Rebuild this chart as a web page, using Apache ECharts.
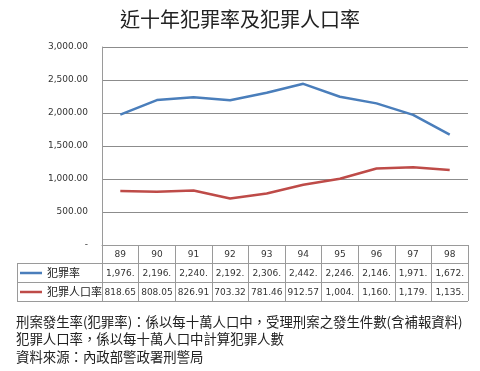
<!DOCTYPE html>
<html>
<head>
<meta charset="utf-8">
<script src="https://cdn.jsdelivr.net/npm/echarts@6/dist/echarts.min.js"></script>
<style>
html,body{margin:0;padding:0;background:#fff;}
#chart{width:480px;height:371px;}
</style>
</head>
<body>
<div id="chart"></div>
<script>
const categories = ['89','90','91','92','93','94','95','96','97','98'];
const crimeRate = [1976, 2196, 2240, 2192, 2306, 2442, 2246, 2146, 1971, 1672];
const offenderRate = [818.65, 808.05, 826.91, 703.32, 781.46, 912.57, 1004, 1160, 1179, 1135];
const seriesNames = ['犯罪率', '犯罪人口率'];
const yTicks = [0, 500, 1000, 1500, 2000, 2500, 3000];
const titleText = '近十年犯罪率及犯罪人口率';
const notes = [
  '刑案發生率(犯罪率)：係以每十萬人口中，受理刑案之發生件數(含補報資料)',
  '犯罪人口率，係以每十萬人口中計算犯罪人數',
  '資料來源：內政部警政署刑警局'
];

const CJK = '"Noto Sans CJK TC", "Noto Sans CJK SC", sans-serif';
const NUM = '"DejaVu Sans", Verdana, sans-serif';
const LINE = '#9a9a9a';

function fmtCell(v) {
  if (v >= 1000) return Math.floor(v).toLocaleString('en-US') + '.';
  return v.toFixed(2);
}
function fmtAxis(v) {
  if (v === 0) return '-';
  return v.toLocaleString('en-US', {minimumFractionDigits: 2, maximumFractionDigits: 2});
}

const chart = echarts.init(document.getElementById('chart'), null, {renderer: 'canvas'});

const gridLeft = 102, gridRight = 12, gridTop = 47, gridBottom = 126;
const W = 480, H = 371;
const axisY = H - gridBottom;
const rowTops = [axisY + 18, axisY + 37, axisY + 56];
const tableLeft = 17, tableRight = W - gridRight;

const graphics = [];
rowTops.forEach(y => {
  graphics.push({type: 'line', silent: true, shape: {x1: tableLeft, y1: y + 0.5, x2: tableRight, y2: y + 0.5}, style: {stroke: LINE, lineWidth: 1}});
});
graphics.push({type: 'line', silent: true, shape: {x1: tableLeft + 0.5, y1: rowTops[0], x2: tableLeft + 0.5, y2: rowTops[2] + 1}, style: {stroke: LINE, lineWidth: 1}});

chart.setOption({
  animation: false,
  backgroundColor: '#ffffff',
  title: [
    {text: titleText, left: 'center', top: 9, padding: 0, textStyle: {fontFamily: CJK, fontSize: 20, fontWeight: 'normal', color: '#222'}},
    {text: notes.join('\n'), left: 16, top: 313, padding: 0, textStyle: {fontFamily: CJK, fontSize: 13.4, fontWeight: 'normal', color: '#222', lineHeight: 17.5}}
  ],
  grid: {left: gridLeft, right: gridRight, top: gridTop, bottom: gridBottom, containLabel: false},
  legend: {
    orient: 'vertical', left: 20, top: rowTops[0] + 0.5, itemGap: 0, padding: 0,
    icon: 'rect', itemWidth: 22, itemHeight: 2.5,
    textStyle: {fontFamily: CJK, fontSize: 11, color: '#222', lineHeight: 19},
    data: seriesNames
  },
  xAxis: {
    type: 'category', data: categories, boundaryGap: true,
    axisLine: {show: true, lineStyle: {color: LINE, width: 1}},
    axisTick: {show: true, interval: 0, length: 56, lineStyle: {color: LINE, width: 1}},
    axisLabel: {
      interval: 0, margin: 1,
      formatter: function (v, i) {
        return '{c|' + v + '}\n{v|' + fmtCell(crimeRate[i]) + '}\n{v|' + fmtCell(offenderRate[i]) + '}';
      },
      rich: {
        c: {fontFamily: NUM, fontSize: 9, color: '#333', lineHeight: 18, height: 18},
        v: {fontFamily: NUM, fontSize: 9, color: '#333', lineHeight: 19, height: 19}
      }
    }
  },
  yAxis: {
    type: 'value', min: yTicks[0], max: yTicks[yTicks.length - 1], interval: 500,
    axisLine: {show: true, lineStyle: {color: LINE, width: 1}},
    axisTick: {show: false},
    splitLine: {show: true, lineStyle: {color: '#8c8c8c', width: 1}},
    axisLabel: {margin: 14, fontFamily: NUM, fontSize: 9, color: '#333', formatter: fmtAxis}
  },
  series: [
    {name: seriesNames[0], type: 'line', data: crimeRate, symbol: 'none', lineStyle: {color: '#4a7ebb', width: 2.5}, itemStyle: {color: '#4a7ebb'}},
    {name: seriesNames[1], type: 'line', data: offenderRate, symbol: 'none', lineStyle: {color: '#be4b48', width: 2.5}, itemStyle: {color: '#be4b48'}}
  ],
  graphic: graphics
});
</script>
</body>
</html>
